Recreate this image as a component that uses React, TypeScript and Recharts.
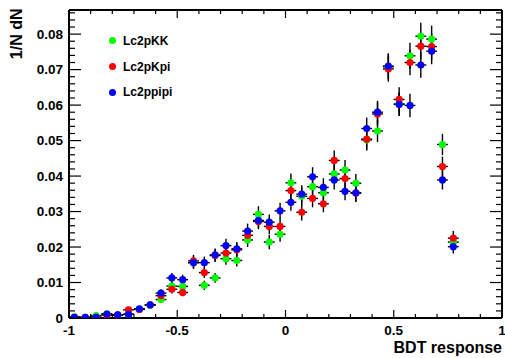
import React from 'react';
import { ScatterChart, Scatter, XAxis, YAxis, ErrorBar, Legend, Label } from 'recharts';

// ---- data ----
const BIN_CENTERS = [-0.975, -0.925, -0.875, -0.825, -0.775, -0.725, -0.675, -0.625, -0.575, -0.525, -0.475, -0.425, -0.375, -0.325, -0.275, -0.225, -0.175, -0.125, -0.075, -0.025, 0.025, 0.075, 0.125, 0.175, 0.225, 0.275, 0.325, 0.375, 0.425, 0.475, 0.525, 0.575, 0.625, 0.675, 0.725, 0.775];
const BIN_HALF_WIDTH = 0.025;

const LC2PKK = [0.0003, 0.0002, 0.0007, 0.0012, 0.0009, 0.0011, 0.0025, 0.0036, 0.0052, 0.0090, 0.0089, 0.0156, 0.0092, 0.0113, 0.0167, 0.0162, 0.0220, 0.0292, 0.0214, 0.0236, 0.0381, 0.0343, 0.0370, 0.0353, 0.0406, 0.0417, 0.0380, 0.0502, 0.0527, 0.0708, 0.0603, 0.0739, 0.0794, 0.0786, 0.0489, 0.0214];
const LC2PKK_ERR = [0.0002, 0.0002, 0.0004, 0.0005, 0.0004, 0.0005, 0.0007, 0.0008, 0.0010, 0.0013, 0.0013, 0.0017, 0.0013, 0.0014, 0.0017, 0.0017, 0.0020, 0.0023, 0.0020, 0.0021, 0.0026, 0.0025, 0.0026, 0.0025, 0.0027, 0.0028, 0.0026, 0.0030, 0.0031, 0.0036, 0.0033, 0.0037, 0.0038, 0.0038, 0.0030, 0.0020];

const LC2PKPI = [0.0002, 0.0001, 0.0002, 0.0008, 0.0008, 0.0023, 0.0024, 0.0037, 0.0063, 0.0081, 0.0072, 0.0161, 0.0128, 0.0176, 0.0183, 0.0192, 0.0233, 0.0272, 0.0258, 0.0258, 0.0359, 0.0298, 0.0337, 0.0322, 0.0444, 0.0393, 0.0352, 0.0504, 0.0575, 0.0702, 0.0616, 0.0720, 0.0766, 0.0765, 0.0427, 0.0225];
const LC2PKPI_ERR = [0.0002, 0.0001, 0.0002, 0.0004, 0.0004, 0.0007, 0.0007, 0.0008, 0.0011, 0.0012, 0.0011, 0.0017, 0.0015, 0.0018, 0.0018, 0.0019, 0.0021, 0.0022, 0.0022, 0.0022, 0.0026, 0.0023, 0.0025, 0.0024, 0.0028, 0.0027, 0.0025, 0.0030, 0.0032, 0.0036, 0.0034, 0.0036, 0.0037, 0.0037, 0.0028, 0.0020];

const LC2PPIPI = [0.0002, 0.0002, 0.0002, 0.0011, 0.0009, 0.0010, 0.0026, 0.0037, 0.0070, 0.0113, 0.0108, 0.0156, 0.0156, 0.0178, 0.0204, 0.0195, 0.0245, 0.0275, 0.0270, 0.0302, 0.0326, 0.0349, 0.0398, 0.0368, 0.0389, 0.0357, 0.0353, 0.0534, 0.0580, 0.0710, 0.0602, 0.0599, 0.0713, 0.0752, 0.0389, 0.0201];
const LC2PPIPI_ERR = [0.0002, 0.0002, 0.0002, 0.0004, 0.0004, 0.0004, 0.0007, 0.0008, 0.0011, 0.0014, 0.0014, 0.0017, 0.0017, 0.0018, 0.0019, 0.0019, 0.0021, 0.0022, 0.0022, 0.0023, 0.0024, 0.0025, 0.0027, 0.0026, 0.0027, 0.0025, 0.0025, 0.0031, 0.0032, 0.0036, 0.0033, 0.0033, 0.0036, 0.0037, 0.0027, 0.0019];

const SERIES_NAMES = ['Lc2pKK', 'Lc2pKpi', 'Lc2ppipi'];
const SERIES_COLORS = ['#00ff00', '#ff0000', '#0000ff'];

const X_DOMAIN: [number, number] = [-1, 1];
const Y_DOMAIN: [number, number] = [0, 0.0868];
const X_MAJOR_TICKS = [-1, -0.5, 0, 0.5, 1];
const X_TICK_LABELS = ['-1', '-0.5', '0', '0.5', '1'];
const Y_MAJOR_TICKS = [0, 0.01, 0.02, 0.03, 0.04, 0.05, 0.06, 0.07, 0.08];
const Y_TICK_LABELS = ['0', '0.01', '0.02', '0.03', '0.04', '0.05', '0.06', '0.07', '0.08'];
const X_MINOR_STEP = 0.1;
const Y_MINOR_STEP = 0.002;

const X_TITLE = 'BDT response';
const Y_TITLE = '1/N dN';

// ---- helpers ----
const FONT = '"Liberation Sans", Arial, Helvetica, sans-serif';

function buildTicks(min: number, max: number, step: number): number[] {
  const out: number[] = [];
  const n = Math.floor((max - min) / step + 1e-6);
  for (let i = 0; i <= n; i++) out.push(Math.round((min + i * step) * 1e6) / 1e6);
  return out;
}
const X_TICKS = buildTicks(X_DOMAIN[0], X_DOMAIN[1], X_MINOR_STEP);
const Y_TICKS = buildTicks(Y_DOMAIN[0], Y_DOMAIN[1], Y_MINOR_STEP);

function majorIndex(v: number, majors: number[]): number {
  return majors.findIndex((m) => Math.abs(m - v) < 1e-7);
}

function makeSeries(values: number[], errors: number[]) {
  return BIN_CENTERS.map((x, i) => ({ x, y: values[i], ey: errors[i], ex: BIN_HALF_WIDTH }));
}
const SERIES_DATA = [
  makeSeries(LC2PKK, LC2PKK_ERR),
  makeSeries(LC2PKPI, LC2PKPI_ERR),
  makeSeries(LC2PPIPI, LC2PPIPI_ERR),
];

const TICK_STROKE = 1.2;
const LABEL_SIZE = 13.5;

const BottomTick = (props: any) => {
  const { x, y, payload } = props;
  const idx = majorIndex(payload.value, X_MAJOR_TICKS);
  const len = idx >= 0 ? 8 : 4;
  return (
    <g>
      <line x1={x} y1={y} x2={x} y2={y - len} stroke="#000" strokeWidth={TICK_STROKE} />
      {idx >= 0 && (
        <text x={x} y={y + 17} textAnchor="middle" fontFamily={FONT} fontWeight="bold" fontSize={LABEL_SIZE} fill="#000">
          {X_TICK_LABELS[idx]}
        </text>
      )}
    </g>
  );
};

const TopTick = (props: any) => {
  const { x, y, payload } = props;
  const idx = majorIndex(payload.value, X_MAJOR_TICKS);
  const len = idx >= 0 ? 8 : 4;
  return <line x1={x} y1={y} x2={x} y2={y + len} stroke="#000" strokeWidth={TICK_STROKE} />;
};

const LeftTick = (props: any) => {
  const { x, y, payload } = props;
  const idx = majorIndex(payload.value, Y_MAJOR_TICKS);
  const len = idx >= 0 ? 12 : 6;
  return (
    <g>
      <line x1={x} y1={y} x2={x + len} y2={y} stroke="#000" strokeWidth={TICK_STROKE} />
      {idx >= 0 && (
        <text x={x - 6} y={y + 4.8} textAnchor="end" fontFamily={FONT} fontWeight="bold" fontSize={LABEL_SIZE} fill="#000">
          {Y_TICK_LABELS[idx]}
        </text>
      )}
    </g>
  );
};

const RightTick = (props: any) => {
  const { x, y, payload } = props;
  const idx = majorIndex(payload.value, Y_MAJOR_TICKS);
  const len = idx >= 0 ? 12 : 6;
  return <line x1={x} y1={y} x2={x - len} y2={y} stroke="#000" strokeWidth={TICK_STROKE} />;
};

const XTitle = (props: any) => {
  const vb = props.viewBox || {};
  const xr = (vb.x ?? 69) + (vb.width ?? 433);
  const yb = (vb.y ?? 318) + 35;
  return (
    <text x={xr} y={yb} textAnchor="end" fontFamily={FONT} fontWeight="bold" fontSize={16} fill="#000">
      {X_TITLE}
    </text>
  );
};

const YTitle = (props: any) => {
  const vb = props.viewBox || {};
  const tx = (vb.x ?? 0) + 21.5;
  const ty = (vb.y ?? 10) - 1.5;
  return (
    <text x={tx} y={ty} textAnchor="end" transform={`rotate(-90, ${tx}, ${ty})`} fontFamily={FONT} fontWeight="bold" fontSize={16} fill="#000">
      {Y_TITLE}
    </text>
  );
};

const renderLegend = (props: any) => {
  const payload = props.payload && props.payload.length ? props.payload : SERIES_NAMES.map((n, i) => ({ value: n, color: SERIES_COLORS[i] }));
  return (
    <div style={{ fontFamily: FONT, fontWeight: 'bold', fontSize: 12, color: '#000' }}>
      {payload.map((entry: any, i: number) => (
        <div key={i} style={{ display: 'flex', alignItems: 'center', height: 25.8 }}>
          <span style={{ display: 'inline-block', width: 7, height: 7, borderRadius: '50%', background: entry.color }} />
          <span style={{ marginLeft: 7.5, lineHeight: '14px' }}>{entry.value}</span>
        </div>
      ))}
    </div>
  );
};

const makeShape = (color: string) => (p: any) => <circle cx={p.cx} cy={p.cy} r={3.6} fill={color} />;

export default function App() {
  return (
    <div style={{ position: 'absolute', left: 0, top: 0, background: '#fff' }}>
      <ScatterChart width={505} height={358} margin={{ top: 9, right: 2, bottom: 0, left: 0 }}>
        <XAxis
          type="number"
          dataKey="x"
          domain={X_DOMAIN}
          allowDataOverflow
          ticks={X_TICKS}
          interval={0}
          height={40}
          tickSize={0}
          tickMargin={0}
          tickLine={false}
          tick={<BottomTick />}
          axisLine={{ stroke: '#000', strokeWidth: 2 }}
          label={<Label content={<XTitle />} />}
        />
        <XAxis
          xAxisId="top"
          orientation="top"
          type="number"
          dataKey="x"
          domain={X_DOMAIN}
          allowDataOverflow
          ticks={X_TICKS}
          interval={0}
          height={1}
          tickSize={0}
          tickMargin={0}
          tickLine={false}
          tick={<TopTick />}
          axisLine={{ stroke: '#000', strokeWidth: 2 }}
        />
        <YAxis
          type="number"
          dataKey="y"
          domain={Y_DOMAIN}
          allowDataOverflow
          ticks={Y_TICKS}
          interval={0}
          width={69}
          tickSize={0}
          tickMargin={0}
          tickLine={false}
          tick={<LeftTick />}
          axisLine={{ stroke: '#000', strokeWidth: 2 }}
          label={<Label content={<YTitle />} />}
        />
        <YAxis
          yAxisId="right"
          orientation="right"
          type="number"
          dataKey="y"
          domain={Y_DOMAIN}
          allowDataOverflow
          ticks={Y_TICKS}
          interval={0}
          width={1}
          tickSize={0}
          tickMargin={0}
          tickLine={false}
          tick={<RightTick />}
          axisLine={{ stroke: '#000', strokeWidth: 2 }}
        />
        <Legend
          layout="vertical"
          align="center"
          verticalAlign="middle"
          content={renderLegend}
          wrapperStyle={{ left: 108.5, top: 28, width: 120, height: 80 }}
        />
        {SERIES_DATA.map((data, i) => (
          <Scatter
            key={SERIES_NAMES[i]}
            name={SERIES_NAMES[i]}
            data={data}
            fill={SERIES_COLORS[i]}
            isAnimationActive={false}
            shape={makeShape(SERIES_COLORS[i])}
          >
            <ErrorBar dataKey="ex" direction="x" width={0} stroke="#000" strokeWidth={1.4} isAnimationActive={false} />
            <ErrorBar dataKey="ey" direction="y" width={0} stroke="#000" strokeWidth={1.4} isAnimationActive={false} />
          </Scatter>
        ))}
      </ScatterChart>
    </div>
  );
}
